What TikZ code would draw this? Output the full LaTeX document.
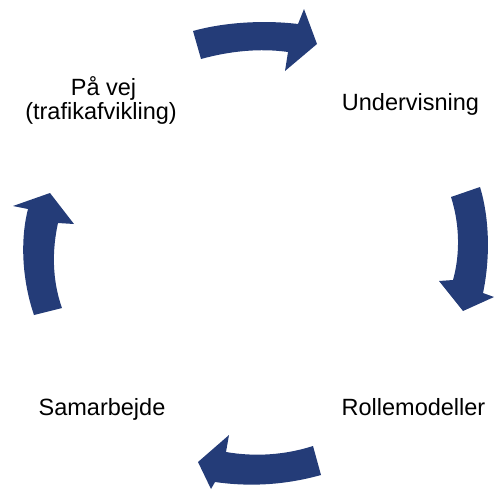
\documentclass[tikz,border=0pt]{standalone}
\usepackage{fontspec}
\setmainfont{Liberation Sans}
\definecolor{navy}{HTML}{243C78}
\begin{document}
\begin{tikzpicture}[x=1pt,y=-1pt,
  lbl/.style={anchor=base,inner sep=0pt,font=\fontsize{23.5}{24}\selectfont},
  cyc/.style={fill=navy,draw=none}]
\useasboundingbox (0,0) rectangle (495,490);
% labels
\node[lbl] (undervisning) at (410.5,110) {Undervisning};
\node[lbl] (paavej) at (103.5,95) {På vej};
\node[lbl] (trafik) at (101,119) {(trafikafvikling)};
\node[lbl] (samarbejde) at (102,415) {Samarbejde};
\node[lbl] (rollemodeller) at (413.5,415) {Rollemodeller};
% top arrow
\fill[cyc] (193,31) .. controls (225,22) and (265,20) .. (298,24)
  -- (304,9) -- (317,44) -- (285,71) -- (288,52)
  .. controls (260,48) and (230,51) .. (201,59) -- cycle;
% right arrow
\fill[cyc] (480,187) .. controls (490,220) and (490,260) .. (483,293)
  -- (494,297) -- (463,311) -- (439,281) -- (453,280)
  .. controls (460,255) and (460,225) .. (451,197) -- cycle;
% bottom arrow
\fill[cyc] (321,475) .. controls (285,485) and (250,487) .. (215,482)
  -- (211,489) -- (198,462) -- (229,435) -- (226,452)
  .. controls (255,457) and (285,455) .. (313,446) -- cycle;
% left arrow
\fill[cyc] (62,308) .. controls (52,280) and (52,250) .. (58,223)
  -- (74,224) -- (50,193) -- (13,206) -- (28,209)
  .. controls (20,240) and (22,280) .. (34,315) -- cycle;
\end{tikzpicture}
\end{document}
